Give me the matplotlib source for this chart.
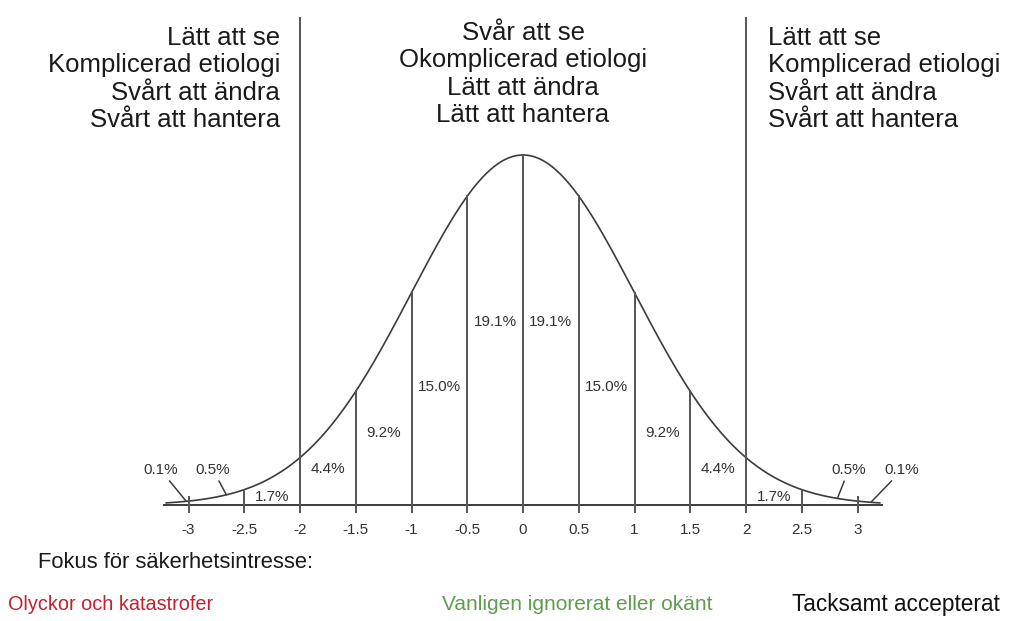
import numpy as np
import matplotlib.pyplot as plt

plt.rcParams['font.family'] = ['Liberation Sans', 'DejaVu Sans']

# Data: standard normal, sigma-gränser och andelar
mu, sigma = 0.0, 1.0
grans = [-3, -2.5, -2, -1.5, -1, -0.5, 0, 0.5, 1, 1.5, 2, 2.5, 3]
tick_labels = ["-3", "-2.5", "-2", "-1.5", "-1", "-0.5", "0",
               "0.5", "1", "1.5", "2", "2.5", "3"]
seg_pct = ["1.7%", "4.4%", "9.2%", "15.0%", "19.1%",
           "19.1%", "15.0%", "9.2%", "4.4%", "1.7%"]
tail_pct = ["0.5%", "0.1%"]

left_lines = ["Lätt att se", "Komplicerad etiologi", "Svårt att ändra", "Svårt att hantera"]
mid_lines = ["Svår att se", "Okomplicerad etiologi", "Lätt att ändra", "Lätt att hantera"]
right_lines = ["Lätt att se", "Komplicerad etiologi", "Svårt att ändra", "Svårt att hantera"]
fokus = "Fokus för säkerhetsintresse:"
bottom_labels = ["Olyckor och katastrofer", "Vanligen ignorerat eller okänt", "Tacksamt accepterat"]
bottom_colors = ["#c3222c", "#5d9e4e", "#111111"]


def pdf(x):
    x = np.asarray(x, dtype=float)
    return np.exp(-0.5 * ((x - mu) / sigma) ** 2) / (sigma * np.sqrt(2 * np.pi))


W, H = 1013, 621
fig = plt.figure(figsize=(W / 100, H / 100), dpi=100)
ax = fig.add_axes([0, 0, 1, 1])
ax.set_axis_off()

# pixel-kalibrering: noll vid x=523, 111.5 px/enhet, baslinje y=505, topp y=155
x0, sx = 523, 111.5
yb = 505
sy = (yb - 155) / pdf(0)
ax.set_xlim(-x0 / sx, (W - x0) / sx)
ax.set_ylim(-(H - yb) / sy, yb / sy)

lc = "#3c3c3c"
tick = 7 / sy

# kurva och baslinje
xs = np.linspace(-3.2, 3.2, 500)
ax.plot(xs, pdf(xs), color=lc, lw=1.2)
ax.plot([-3.22, 3.22], [0, 0], color=lc, lw=1.4)

# vertikala linjer
for b in grans:
    if abs(b) == 2:
        top = 487 / sy
    elif abs(b) == 3:
        top = 8 / sy
    else:
        top = float(pdf(b))
    ax.plot([b, b], [-tick, top], color="#555555", lw=1.4)

for b, lbl in zip(grans, tick_labels):
    ax.text(b, -25 / sy, lbl, ha="center", va="center", fontsize=11, color="#333333")

# procent i segmenten
pct_y = [8, 36, 72, 118, 183, 183, 118, 72, 36, 8]
for i, lbl in enumerate(seg_pct):
    xm = (grans[i + 1] + grans[i + 2]) / 2
    ax.text(xm, pct_y[i] / sy, lbl, ha="center", va="center", fontsize=11, color="#333333")

# svansar med ledarlinjer
arrow = dict(arrowstyle="-", color=lc, lw=1.1, shrinkA=1, shrinkB=0)
for side, xa, xt_a, xb, xt_b in [(-1, 2.66, 2.78, 3.02, 3.25), (1, 2.82, 2.92, 3.12, 3.40)]:
    ax.annotate(tail_pct[0], xy=(side * xa, pdf(xa)), xytext=(side * xt_a, 28 / sy),
                ha="center", va="bottom", fontsize=11, color="#333333", arrowprops=arrow)
    ax.annotate(tail_pct[1], xy=(side * xb, pdf(xb)), xytext=(side * xt_b, 28 / sy),
                ha="center", va="bottom", fontsize=11, color="#333333", arrowprops=arrow)

# textblock överst
ts = dict(fontsize=18.5, color="#1a1a1a", linespacing=1.16, va="center")
fig.text(280 / W, 1 - 79 / H, "\n".join(left_lines), ha="right", multialignment="right", **ts)
fig.text(523 / W, 1 - 74 / H, "\n".join(mid_lines), ha="center", multialignment="center", **ts)
fig.text(768 / W, 1 - 79 / H, "\n".join(right_lines), ha="left", multialignment="left", **ts)

# text nederst
fig.text(38 / W, 1 - 563 / H, fokus, ha="left", va="center", fontsize=15.8, color="#1a1a1a")
for xp, lbl, col, fs in zip([8, 442, 792], bottom_labels, bottom_colors, [14.3, 15, 16.3]):
    fig.text(xp / W, 1 - 605 / H, lbl, ha="left", va="center", fontsize=fs, color=col)

fig.savefig("out.png", dpi=100)
